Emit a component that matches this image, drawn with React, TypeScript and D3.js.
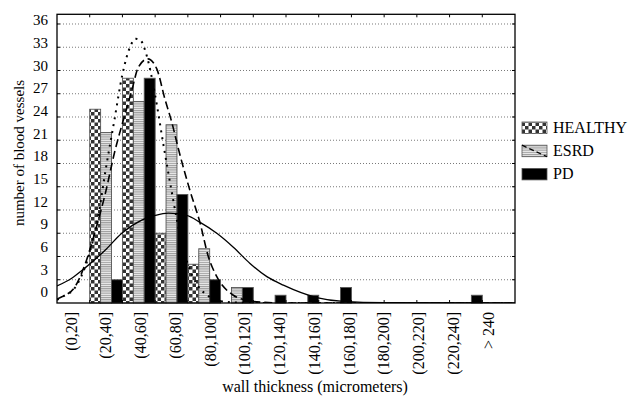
import React, { useEffect, useRef } from "react";
import * as d3 from "d3";

// bins of wall thickness, 20 micrometers each, last one open
const BIN_LABELS = ["(0,20]", "(20,40]", "(40,60]", "(60,80]", "(80,100]", "(100,120]", "(120,140]",
    "(140,160]", "(160,180]", "(180,200]", "(200,220]", "(220,240]", "> 240"];
const BIN_STARTS = [0, 20, 40, 60, 80, 100, 120, 140, 160, 180, 200, 220, 240];

const HEALTHY = [0, 25, 29, 9, 5, 0, 0, 0, 0, 0, 0, 0, 0];
const ESRD    = [0, 22, 26, 23, 7, 2, 0, 0, 0, 0, 0, 0, 0];
const PD      = [0, 3, 29, 14, 3, 2, 1, 1, 2, 0, 0, 0, 1];

const Y_TICKS = [0, 3, 6, 9, 12, 15, 18, 21, 24, 27, 30, 33, 36];

// fitted curves as [thickness, count]
const FIT_HEALTHY = [[0, 0.4], [5, 1.0], [10, 1.7], [15, 3.5], [20, 6.5], [25, 11], [30, 17.5], [35, 23.5],
    [40, 29.5], [45, 33.2], [48, 34.1], [51, 33.9], [55, 31.8], [60, 26.8], [65, 20.5], [70, 14.5], [75, 9],
    [80, 5], [85, 2.6], [90, 1.3], [95, 0.6], [100, 0.25], [110, 0.05], [130, 0], [280, 0]];
const FIT_ESRD = [[0, 0.5], [3, 0.8], [11, 2.1], [17, 4.9], [23, 9], [29.5, 14.1], [35.5, 19.7], [41.5, 24.3],
    [45.7, 27.4], [49.7, 30.4], [55.5, 31.5], [61, 30.2], [66, 26.3], [70.2, 23.3], [74.2, 19.9], [81.3, 14.5],
    [87.5, 10.3], [92.5, 6], [97.7, 3.4], [107.8, 1.0], [115, 0.4], [125, 0.1], [140, 0], [280, 0]];
const FIT_PD = [[0, 2.2], [9, 3.2], [17, 4.5], [29.4, 6.8], [39.6, 9], [51.8, 10.7], [60, 11.3], [68, 11.6],
    [79.3, 11.3], [87.5, 10.4], [97.7, 9], [107.8, 7.2], [118, 5.1], [128.3, 3.4], [138.4, 2.3], [158.8, 0.7],
    [175, 0.2], [200, 0.03], [280, 0]];

const SERIES = ["HEALTHY", "ESRD", "PD"];

const W = 630;
const H = 399;
const X0 = 57;
const X1 = 515;
const Y0 = 303;
const Y1 = 14.3;
const FONT = "Liberation Serif, DejaVu Serif, Times New Roman, serif";

const App = () => {
    const svgRef = useRef<SVGSVGElement | null>(null);

    useEffect(() => {
        if (!svgRef.current) return;
        const svg = d3.select(svgRef.current);
        svg.selectAll("*").remove();

        const x = d3.scaleLinear().domain([0, 280]).range([X0, X1]);
        const y = d3.scaleLinear().domain([0, 37.25]).range([Y0, Y1]);
        // the exported labels drift from the grid, so they get their own scales
        const yLab = d3.scaleLinear().domain([0, 36]).range([292, 20]);
        const xLab = d3.scalePoint<string>().domain(BIN_LABELS).range([71, 488]);

        // ── patterns ──────────────────────────────────────────────
        const defs = svg.append("defs");
        const chk = defs.append("pattern").attr("id", "chk")
            .attr("patternUnits", "userSpaceOnUse").attr("width", 7).attr("height", 7);
        chk.append("rect").attr("width", 7).attr("height", 7).attr("fill", "#fff");
        chk.append("rect").attr("width", 3.5).attr("height", 3.5).attr("fill", "#333");
        chk.append("rect").attr("x", 3.5).attr("y", 3.5).attr("width", 3.5).attr("height", 3.5).attr("fill", "#333");

        const hs = defs.append("pattern").attr("id", "hstripe")
            .attr("patternUnits", "userSpaceOnUse").attr("width", 4).attr("height", 2.2);
        hs.append("rect").attr("width", 4).attr("height", 2.2).attr("fill", "#eeeeee");
        hs.append("rect").attr("width", 4).attr("height", 1.1).attr("fill", "#9a9a9a");

        defs.append("clipPath").attr("id", "plotclip")
            .append("rect").attr("x", X0).attr("y", Y1).attr("width", X1 - X0).attr("height", Y0 - Y1);

        const fills = ["url(#chk)", "url(#hstripe)", "#000"];

        // ── grid ─────────────────────────────────────────────────
        Y_TICKS.filter(v => v > 0).forEach(v => {
            svg.append("line")
                .attr("x1", X0).attr("x2", X1).attr("y1", y(v)).attr("y2", y(v))
                .attr("stroke", "#555").attr("stroke-width", 0.8).attr("stroke-dasharray", "1,2");
        });

        // ── bars ─────────────────────────────────────────────────
        const slot = x(20) - x(0);
        const bw = slot / 3;
        [HEALTHY, ESRD, PD].forEach((vals, s) => {
            vals.forEach((v, i) => {
                if (v <= 0) return;
                svg.append("rect")
                    .attr("x", x(BIN_STARTS[i]) + s * bw).attr("y", y(v))
                    .attr("width", bw).attr("height", Y0 - y(v))
                    .attr("fill", fills[s])
                    .attr("stroke", "#555").attr("stroke-width", 0.9);
            });
        });

        // ── fitted curves ────────────────────────────────────────
        const line = d3.line<number[]>().x(d => x(d[0])).y(d => y(d[1])).curve(d3.curveMonotoneX);
        const cg = svg.append("g").attr("clip-path", "url(#plotclip)");
        cg.append("path").attr("d", line(FIT_HEALTHY)).attr("fill", "none")
            .attr("stroke", "#000").attr("stroke-width", 2).attr("stroke-dasharray", "2,5");
        cg.append("path").attr("d", line(FIT_ESRD)).attr("fill", "none")
            .attr("stroke", "#000").attr("stroke-width", 1.6).attr("stroke-dasharray", "8,4");
        cg.append("path").attr("d", line(FIT_PD)).attr("fill", "none")
            .attr("stroke", "#000").attr("stroke-width", 1.3);

        // ── frame and ticks ──────────────────────────────────────
        svg.append("rect").attr("x", X0).attr("y", Y1).attr("width", X1 - X0).attr("height", Y0 - Y1)
            .attr("fill", "none").attr("stroke", "#000").attr("stroke-width", 1.3);
        Y_TICKS.filter(v => v > 0).forEach(v => {
            svg.append("line").attr("x1", X0).attr("x2", X0 + 3).attr("y1", y(v)).attr("y2", y(v)).attr("stroke", "#000");
            svg.append("line").attr("x1", X1 - 3).attr("x2", X1).attr("y1", y(v)).attr("y2", y(v)).attr("stroke", "#000");
        });
        BIN_STARTS.concat([260]).filter(t => t > 0).forEach(t => {
            svg.append("line").attr("x1", x(t)).attr("x2", x(t)).attr("y1", Y1).attr("y2", Y1 + 3).attr("stroke", "#000");
            svg.append("line").attr("x1", x(t)).attr("x2", x(t)).attr("y1", Y0 - 3).attr("y2", Y0).attr("stroke", "#000");
        });

        // ── tick labels ──────────────────────────────────────────
        Y_TICKS.forEach(v => {
            svg.append("text")
                .attr("x", 48).attr("y", yLab(v)).attr("dy", "0.35em")
                .attr("text-anchor", "end").attr("font-size", "15px").attr("font-family", FONT)
                .attr("fill", "#000").text(v);
        });
        BIN_LABELS.forEach(lab => {
            svg.append("text")
                .attr("transform", `translate(${(xLab(lab) as number) + 5.5},312) rotate(-90)`)
                .attr("text-anchor", "end").attr("font-size", "16px").attr("font-family", FONT)
                .attr("fill", "#000").text(lab);
        });

        // ── axis titles ──────────────────────────────────────────
        svg.append("text")
            .attr("x", 315).attr("y", 392).attr("text-anchor", "middle")
            .attr("font-size", "16px").attr("font-family", FONT).attr("fill", "#000")
            .text("wall thickness (micrometers)");
        svg.append("text")
            .attr("transform", "translate(24,153) rotate(-90)").attr("text-anchor", "middle")
            .attr("font-size", "15px").attr("font-family", FONT).attr("fill", "#000")
            .text("number of blood vessels");

        // ── legend ───────────────────────────────────────────────
        SERIES.forEach((name, i) => {
            const ly = 122 + i * 23.2;
            svg.append("rect").attr("x", 522).attr("y", ly).attr("width", 25).attr("height", 11.5)
                .attr("fill", fills[i]).attr("stroke", "#555").attr("stroke-width", 0.8);
            if (i === 1) {
                svg.append("line").attr("x1", 522).attr("y1", ly).attr("x2", 547).attr("y2", ly + 11.5)
                    .attr("stroke", "#000").attr("stroke-width", 1.3).attr("stroke-dasharray", "5,3");
            }
            svg.append("text")
                .attr("x", 553).attr("y", ly + 11)
                .attr("font-size", "16px").attr("font-family", FONT).attr("fill", "#000")
                .text(name);
        });
    }, []);

    return (
        <svg
            ref={svgRef}
            width={W}
            height={H}
            style={{ position: "absolute", left: 0, top: 0, background: "#fff" }}
        />
    );
};

export default App;
